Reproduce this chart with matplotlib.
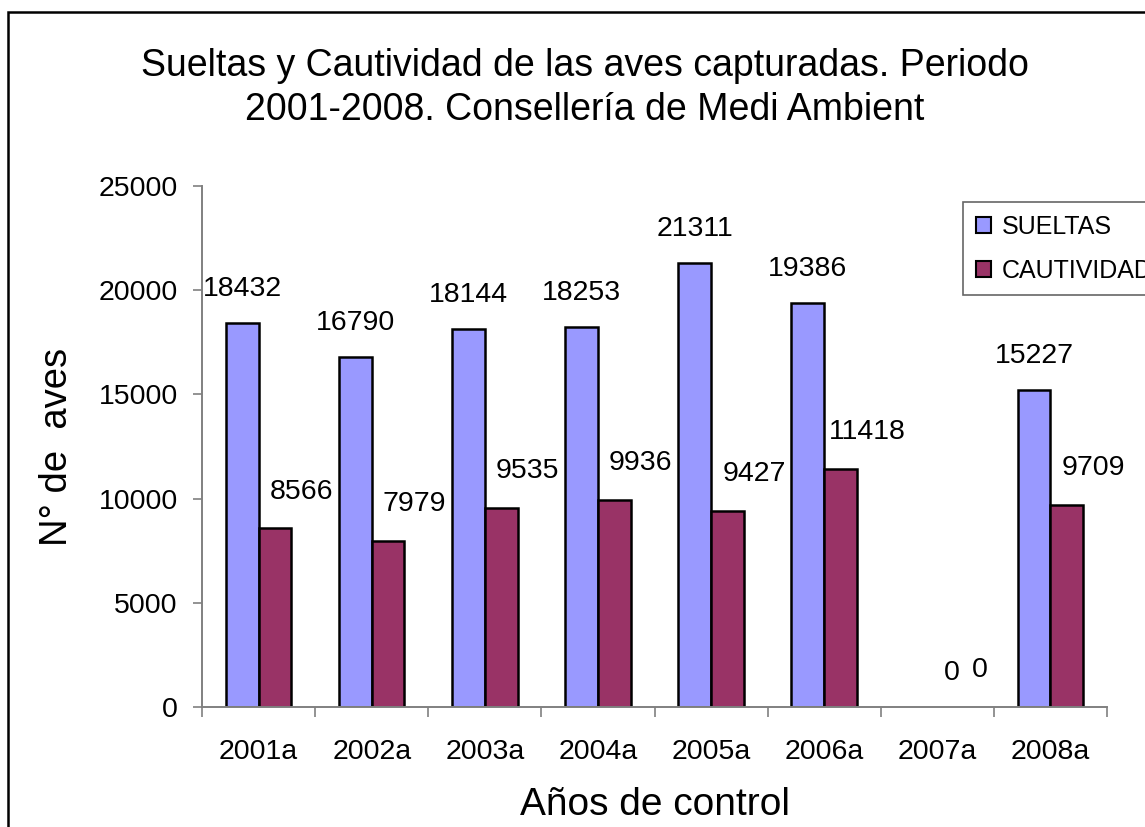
import matplotlib
matplotlib.use('Agg')
import matplotlib.pyplot as plt
from matplotlib.patches import Rectangle, Patch
import numpy as np

categories = ['2001a', '2002a', '2003a', '2004a', '2005a', '2006a', '2007a', '2008a']
sueltas = [18432, 16790, 18144, 18253, 21311, 19386, 0, 15227]
cautividad = [8566, 7979, 9535, 9936, 9427, 11418, 0, 9709]
series_names = ['SUELTAS', 'CAUTIVIDAD']
yticks = [0, 5000, 10000, 15000, 20000, 25000]
title = 'Sueltas y Cautividad de las aves capturadas. Periodo\n2001-2008. Consellería de Medi Ambient'
xlabel = 'Años de control'
ylabel = 'N° de  aves'

plt.rcParams['font.family'] = ['Liberation Sans', 'DejaVu Sans']

W, H = 1145, 827
fig = plt.figure(figsize=(W / 100, H / 100), dpi=100)
fig.patch.set_facecolor('white')

ax = fig.add_axes([202 / W, 1 - 707 / H, (1107 - 202) / W, (707 - 186) / H])
x = np.arange(len(categories))
w = 0.29
blue, red = '#9999FF', '#993366'
b1 = ax.bar(x - w / 2, sueltas, w, color=blue, edgecolor='black', linewidth=1.8)
b2 = ax.bar(x + w / 2, cautividad, w, color=red, edgecolor='black', linewidth=1.8)
for p in list(b1) + list(b2):
    if p.get_height() == 0:
        p.set_linewidth(0)

ax.set_xlim(-0.5, len(categories) - 0.5)
ax.set_ylim(0, 25000)
ax.set_yticks(yticks)
ax.set_yticklabels([str(t) for t in yticks])
for s in ['top', 'right']:
    ax.spines[s].set_visible(False)
for s in ['left', 'bottom']:
    ax.spines[s].set_color('#808080')
    ax.spines[s].set_linewidth(1.4)

ax.tick_params(axis='y', direction='out', length=6.5, width=1.2, color='#808080',
               labelsize=20.5, pad=11)
ax.set_xticks(np.arange(-0.5, len(categories), 1.0))
ax.set_xticklabels([])
ax.tick_params(axis='x', which='major', direction='out', length=7, width=1.2, color='#808080')
ax.set_xticks(x, minor=True)
ax.set_xticklabels(categories, minor=True)
ax.tick_params(axis='x', which='minor', length=0, labelsize=20.5, pad=23)

# value labels
for xi, v in zip(x, sueltas):
    dx = 0 if v else 22
    ax.annotate(str(v), xy=(xi - w / 2, v), xytext=(dx, 24.5), textcoords='offset points',
                ha='center', va='center', fontsize=20.5)
for xi, v in zip(x, cautividad):
    ax.annotate(str(v), xy=(xi + w / 2, v), xytext=(19, 26.6), textcoords='offset points',
                ha='center', va='center', fontsize=20.5)

ax.set_xlabel(xlabel, fontsize=28, va='baseline')
ax.xaxis.set_label_coords(0.5, (707 - 815) / (707 - 186))
ax.set_ylabel(ylabel, fontsize=27.5, va='center')
ax.yaxis.set_label_coords((57 - 202) / (1107 - 202), 0.5)

fig.text(585 / W, 1 - 88 / H, title, ha='center', va='center', fontsize=27,
         multialignment='center', linespacing=1.26)

handles = [Patch(facecolor=blue, edgecolor='black', linewidth=1.5),
           Patch(facecolor=red, edgecolor='black', linewidth=1.5)]
leg = fig.legend(handles, series_names, loc='upper left',
                 bbox_to_anchor=(963 / W, 1 - 202 / H), bbox_transform=fig.transFigure,
                 fontsize=18, frameon=True, fancybox=False, borderaxespad=0,
                 handlelength=0.6, handleheight=0.6, handletextpad=0.45,
                 labelspacing=0.8, borderpad=0.5)
leg.get_frame().set_edgecolor('#404040')
leg.get_frame().set_linewidth(1.2)

fig.add_artist(Rectangle((8 / W, -0.2), 1.5, 1.2 - 12 / H, transform=fig.transFigure,
                         fill=False, edgecolor='black', linewidth=1.8))

fig.savefig('out.png', dpi=100)
